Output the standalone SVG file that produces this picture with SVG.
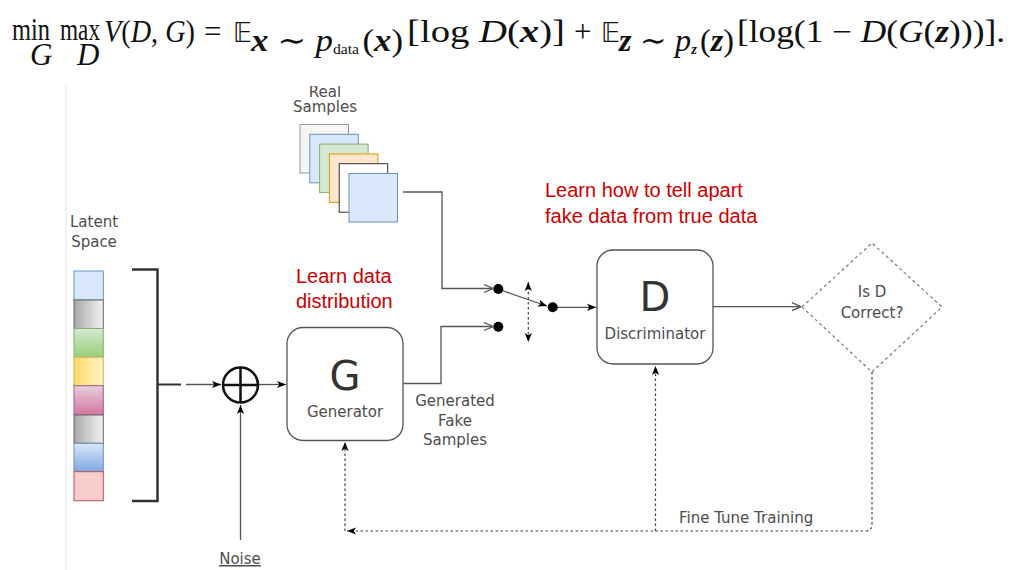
<svg xmlns="http://www.w3.org/2000/svg" width="1010" height="570" viewBox="0 0 1010 570">
<style>
.f{font-family:"Liberation Serif","DejaVu Serif",serif;font-size:31px;fill:#111}
.it{font-style:italic}
.bi{font-style:italic;font-weight:bold}
.bb{font-family:"DejaVu Sans",sans-serif;font-size:26px;fill:#111}
.lbl{font-family:"DejaVu Sans",Verdana,sans-serif;font-size:15px;fill:#4d4d4d}
.big{font-family:"DejaVu Sans",Verdana,sans-serif;font-size:40px;fill:#333}
.red{font-family:"Liberation Sans",Arial,sans-serif;font-size:20px;fill:#cc0000}
.conn{fill:none;stroke:#555;stroke-width:1.3}
.dash{fill:none;stroke:#444;stroke-width:1.2;stroke-dasharray:2.5 2.5}
.box{fill:#fff;stroke:#555;stroke-width:1.3}
.dot{fill:#000}
</style>
<defs>
<marker id="block" viewBox="0 0 10 10" refX="10" refY="5" markerWidth="9" markerHeight="9" orient="auto-start-reverse" markerUnits="userSpaceOnUse"><path d="M0,1 L10,5 L0,9 L2.5,5 z" fill="#000"/></marker>
<marker id="open" viewBox="0 0 10 10" refX="10" refY="5" markerWidth="10" markerHeight="10" orient="auto" markerUnits="userSpaceOnUse"><path d="M1,1 L10,5 L1,9" fill="none" stroke="#555" stroke-width="1.3"/></marker>
<linearGradient id="gGray" x1="0" y1="0" x2="1" y2="0"><stop offset="0" stop-color="#a8a8a8"/><stop offset="1" stop-color="#f2f2f2"/></linearGradient>
<linearGradient id="gGreen" x1="0" y1="0" x2="0" y2="1"><stop offset="0" stop-color="#d5e8d4"/><stop offset="1" stop-color="#97d077"/></linearGradient>
<linearGradient id="gYellow" x1="0" y1="0" x2="1" y2="0"><stop offset="0" stop-color="#ffd966"/><stop offset="1" stop-color="#fff2cc"/></linearGradient>
<linearGradient id="gPink" x1="0" y1="0" x2="0" y2="1"><stop offset="0" stop-color="#e6d0de"/><stop offset="1" stop-color="#d5739d"/></linearGradient>
<linearGradient id="gBlue" x1="0" y1="0" x2="0" y2="1"><stop offset="0" stop-color="#dae8fc"/><stop offset="1" stop-color="#7ea6e0"/></linearGradient>
<clipPath id="topClip"><rect x="0" y="86" width="1010" height="484"/></clipPath>
</defs>
<rect width="1010" height="570" fill="#fff"/>

<g id="formula">
<text class="f" x="12" y="40" textLength="38" lengthAdjust="spacingAndGlyphs">min</text>
<text class="f it" x="30" y="65" font-size="22">G</text>
<text class="f" x="60" y="40" textLength="40" lengthAdjust="spacingAndGlyphs">max</text>
<text class="f it" x="77" y="65" font-size="22">D</text>
<text class="f" x="104" y="42" textLength="91" lengthAdjust="spacingAndGlyphs"><tspan class="it">V</tspan>(<tspan class="it">D</tspan>, <tspan class="it">G</tspan>)</text>
<text class="f" x="204" y="42">=</text>
<text class="bb" x="233" y="42">𝔼</text>
<text class="f" x="251" y="51" font-size="20" textLength="152" lengthAdjust="spacingAndGlyphs"><tspan class="bi">x</tspan><tspan dx="8">∼</tspan><tspan class="it" dx="8">p</tspan><tspan font-size="14" dy="3">data</tspan><tspan dy="-3" dx="3">(</tspan><tspan class="bi">x</tspan>)</text>
<text class="f" x="407" y="42" textLength="158" lengthAdjust="spacingAndGlyphs">[log <tspan class="it">D</tspan>(<tspan class="bi">x</tspan>)]</text>
<text class="f" x="574" y="42">+</text>
<text class="bb" x="601" y="42">𝔼</text>
<text class="f" x="619" y="51" font-size="20" textLength="115" lengthAdjust="spacingAndGlyphs"><tspan class="bi">z</tspan><tspan dx="8">∼</tspan><tspan class="it" dx="8">p</tspan><tspan class="bi" font-size="14" dy="3">z</tspan><tspan dy="-3" dx="3">(</tspan><tspan class="bi">z</tspan>)</text>
<text class="f" x="737" y="42" textLength="268" lengthAdjust="spacingAndGlyphs">[log(1 − <tspan class="it">D</tspan>(<tspan class="it">G</tspan>(<tspan class="bi">z</tspan>)))].</text>
</g>

<line x1="66" y1="84" x2="66" y2="570" stroke="#eeeeee" stroke-width="1.5"/>

<g id="connectors">
<path class="conn" d="M403,192 H442 V288.5 H493" marker-end="url(#open)"/>
<path class="conn" d="M403,383.5 H441 V326.5 H493" marker-end="url(#open)"/>
<path class="conn" d="M502,290.5 L547,306" marker-end="url(#block)"/>
<path class="conn" d="M557,307.3 H596" marker-end="url(#block)"/>
<path class="dash" d="M528.3,282 V342" marker-start="url(#block)" marker-end="url(#block)"/>
<path class="conn" d="M713,306.7 H801" marker-end="url(#open)"/>
<path d="M157.5,384.5 H181" fill="none" stroke="#333" stroke-width="2"/>
<path class="conn" d="M186,384.5 H221" stroke="#333" marker-end="url(#block)"/>
<path class="conn" d="M259,384.5 H286" stroke="#333" marker-end="url(#block)"/>
<path class="conn" d="M240.5,540 V405" stroke="#333" marker-end="url(#block)"/>
<path class="dash" d="M872,372 V524 Q872,531 865,531 H347" marker-end="url(#block)"/>
<path class="dash" d="M345,531 V442" marker-end="url(#block)"/>
<path class="dash" d="M655.5,531 V366" marker-end="url(#block)"/>
<circle class="dot" cx="498.3" cy="289" r="5"/>
<circle class="dot" cx="498.3" cy="326.7" r="5"/>
<circle class="dot" cx="552.7" cy="307.3" r="5"/>
</g>

<g id="real-samples">
<text class="lbl" x="325" y="97" text-anchor="middle" clip-path="url(#topClip)">Real</text>
<text class="lbl" x="325" y="112" text-anchor="middle">Samples</text>
<rect x="300" y="124.5" width="48.5" height="48.5" fill="#f5f5f5" stroke="#999"/>
<rect x="309.8" y="134.3" width="48.5" height="48.5" fill="#dae8fc" stroke="#6c8ebf"/>
<rect x="319.6" y="144.1" width="48.5" height="48.5" fill="#d5e8d4" stroke="#82b366"/>
<rect x="329.4" y="153.9" width="48.5" height="48.5" fill="#ffe6cc" stroke="#d79b00"/>
<rect x="339.2" y="163.7" width="48.5" height="48.5" fill="#ffffff" stroke="#333"/>
<rect x="349" y="173.5" width="48.5" height="48.5" fill="#dae8fc" stroke="#6c8ebf"/>
</g>

<g id="latent-space">
<text class="lbl" x="94" y="227" text-anchor="middle">Latent</text>
<text class="lbl" x="94" y="247" text-anchor="middle">Space</text>
<rect x="74" y="271" width="29.3" height="29" fill="#dae8fc" stroke="#6c8ebf"/>
<rect x="74" y="300" width="29.3" height="28.5" fill="url(#gGray)" stroke="#666"/>
<rect x="74" y="328.5" width="29.3" height="28.8" fill="url(#gGreen)" stroke="#82b366"/>
<rect x="74" y="357.3" width="29.3" height="28.4" fill="url(#gYellow)" stroke="#d6b656"/>
<rect x="74" y="385.7" width="29.3" height="29.3" fill="url(#gPink)" stroke="#996185"/>
<rect x="74" y="415" width="29.3" height="28.3" fill="url(#gGray)" stroke="#666"/>
<rect x="74" y="443.3" width="29.3" height="28.4" fill="url(#gBlue)" stroke="#6c8ebf"/>
<rect x="74" y="471.7" width="29.3" height="29" fill="#f8cecc" stroke="#b85450"/>
<path d="M132,269.5 H157.5 V501 H132" fill="none" stroke="#333" stroke-width="2.5"/>
</g>

<g id="sum">
<circle cx="240.5" cy="385" r="17.5" fill="#fff" stroke="#111" stroke-width="2.5"/>
<path d="M223,385 H258 M240.5,367.5 V402.5" stroke="#111" stroke-width="2.5"/>
</g>

<g id="noise">
<text class="lbl" x="240" y="564" text-anchor="middle" text-decoration="underline">Noise</text>
</g>

<g id="generator">
<rect class="box" x="287" y="327.5" width="116" height="113" rx="16"/>
<text class="big" x="345" y="390" text-anchor="middle">G</text>
<text class="lbl" x="345" y="417" text-anchor="middle" font-size="16.5">Generator</text>
</g>

<g id="fake-label">
<text class="lbl" x="455" y="406" text-anchor="middle" font-size="15.5">Generated</text>
<text class="lbl" x="455" y="426" text-anchor="middle" font-size="15.5">Fake</text>
<text class="lbl" x="455" y="445" text-anchor="middle" font-size="15.5">Samples</text>
</g>

<g id="discriminator">
<rect class="box" x="597" y="250" width="116" height="114" rx="16"/>
<text class="big" x="655" y="311" text-anchor="middle">D</text>
<text class="lbl" x="655" y="339" text-anchor="middle" font-size="17">Discriminator</text>
</g>

<g id="decision">
<polygon points="802,307 872,243 942,307 872,372" fill="#fff" stroke="#777" stroke-width="1.2" stroke-dasharray="3 3"/>
<text class="lbl" x="872" y="297" text-anchor="middle" font-size="16">Is D</text>
<text class="lbl" x="872" y="318" text-anchor="middle" font-size="16">Correct?</text>
</g>

<g id="annotations">
<text class="red" x="296" y="283">Learn data</text>
<text class="red" x="296" y="308">distribution</text>
<text class="red" x="545" y="197">Learn how to tell apart</text>
<text class="red" x="545" y="223">fake data from true data</text>
<text class="lbl" x="679" y="523" font-size="15.5">Fine Tune Training</text>
</g>
</svg>
